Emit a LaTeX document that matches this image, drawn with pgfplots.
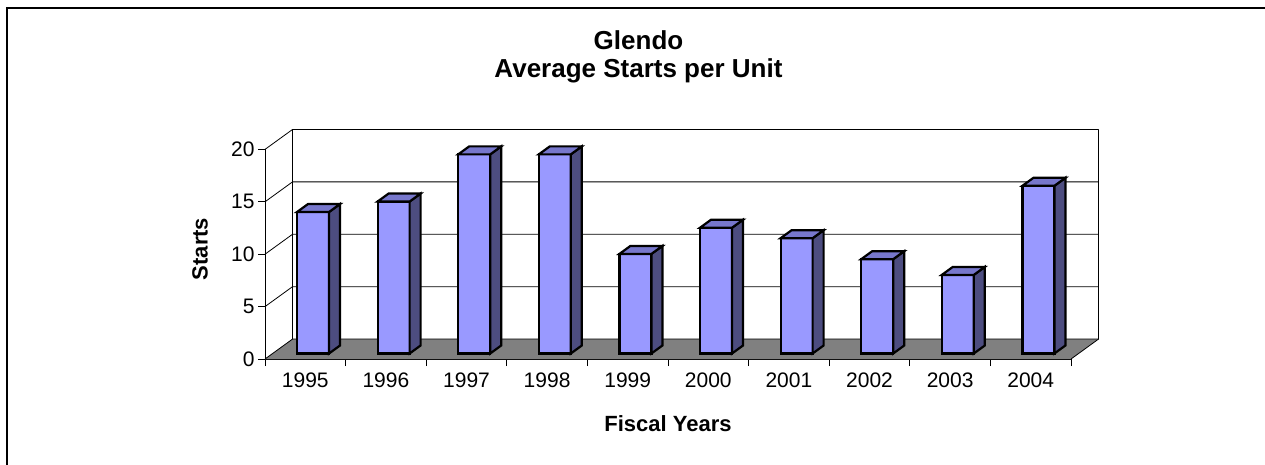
\documentclass[border=0pt]{standalone}
\usepackage{pgfplots}
\pgfplotsset{compat=1.18}
\usepackage{pgfplotstable}
\usepackage{fontspec}
\setmainfont{Liberation Sans}
\definecolor{barfront}{RGB}{153,153,255}
\definecolor{bartop}{RGB}{119,119,204}
\definecolor{barside}{RGB}{77,77,128}
\definecolor{floorgray}{RGB}{128,128,128}

\pgfplotstableread{
x v
0 13.5
1 14.5
2 19
3 19
4 9.5
5 12
6 11
7 9
8 7.5
9 16
}\datatable

\pgfdeclareplotmark{bar3d}{%
  \pgfmathsetmacro\yb{5.5-\val*10.48}%
  \pgfmathsetmacro\ybb{13.5-\val*10.48}%
  \pgfsetlinewidth{2.2pt}%
  \pgfsetstrokecolor{black}%
  \pgfsetmiterjoin
  % front face
  \pgfsetfillcolor{barfront}%
  \pgfpathmoveto{\pgfpoint{-8.3pt}{\yb pt}}%
  \pgfpathlineto{\pgfpoint{23.7pt}{\yb pt}}%
  \pgfpathlineto{\pgfpoint{23.7pt}{5.5pt}}%
  \pgfpathlineto{\pgfpoint{-8.3pt}{5.5pt}}%
  \pgfpathclose
  \pgfusepath{fill,stroke}%
  % side face
  \pgfsetfillcolor{barside}%
  \pgfpathmoveto{\pgfpoint{23.7pt}{\yb pt}}%
  \pgfpathlineto{\pgfpoint{23.7pt}{5.5pt}}%
  \pgfpathlineto{\pgfpoint{34.7pt}{13.5pt}}%
  \pgfpathlineto{\pgfpoint{34.7pt}{\ybb pt}}%
  \pgfpathclose
  \pgfusepath{fill,stroke}%
  % top face
  \pgfsetfillcolor{bartop}%
  \pgfpathmoveto{\pgfpoint{-8.3pt}{5.5pt}}%
  \pgfpathlineto{\pgfpoint{23.7pt}{5.5pt}}%
  \pgfpathlineto{\pgfpoint{34.7pt}{13.5pt}}%
  \pgfpathlineto{\pgfpoint{2.7pt}{13.5pt}}%
  \pgfpathclose
  \pgfusepath{fill,stroke}%
}

\begin{document}
\begin{tikzpicture}
\path[use as bounding box] (0,0) rectangle (1265pt,-464pt);
\draw[line width=2pt, black] (6.5pt,-480pt) -- (6.5pt,-7.5pt) -- (1280pt,-7.5pt);

\begin{axis}[
  at={(265pt,-359pt)}, anchor=south west,
  x=80.6pt, y=10.48pt,
  xmin=0, xmax=10, ymin=0, ymax=20,
  axis lines*=left,
  axis line style={black, line width=0.8pt},
  clip=false,
  xtick={0,1,2,3,4,5,6,7,8,9,10},
  x tick label as interval,
  xticklabels={1995,1996,1997,1998,1999,2000,2001,2002,2003,2004},
  xticklabel style={yshift=-3pt},
  ytick={0,5,10,15,20},
  tick align=outside,
  major tick length=7pt,
  tick style={black, line width=0.8pt},
  ticklabel style={font=\fontsize{21}{25}\selectfont},
  /pgf/number format/assume math mode=true,
]
% floor
\fill[floorgray] (axis cs:0,0) -- (axis cs:10,0) -- (axis cs:10.341,1.9) -- (axis cs:0.341,1.9) -- cycle;
% walls and gridlines
\draw[black, line width=0.8pt] (axis cs:0,0) -- (axis cs:0.341,1.9) -- (axis cs:10.341,1.9);
\draw[black, line width=0.8pt] (axis cs:0,5) -- (axis cs:0.341,6.9) -- (axis cs:10.341,6.9);
\draw[black, line width=0.8pt] (axis cs:0,10) -- (axis cs:0.341,11.9) -- (axis cs:10.341,11.9);
\draw[black, line width=0.8pt] (axis cs:0,15) -- (axis cs:0.341,16.9) -- (axis cs:10.341,16.9);
\draw[black, line width=0.8pt] (axis cs:0,20) -- (axis cs:0.341,21.9) -- (axis cs:10.341,21.9);
\draw[black, line width=0.8pt] (axis cs:0.341,1.9) -- (axis cs:0.341,21.9);
\draw[black, line width=0.8pt] (axis cs:10,0) -- (axis cs:10.341,1.9) -- (axis cs:10.341,21.9);
% bars
\addplot[scatter, only marks, mark=bar3d,
  visualization depends on={\thisrow{v} \as \val},
  scatter/@pre marker code/.code={},
  scatter/@post marker code/.code={}]
  table[x expr=\thisrow{x}+0.5, y=v] {\datatable};
\end{axis}

\node[font=\bfseries\fontsize{26}{30}\selectfont, anchor=base] at (638.5pt,-49.3pt) {Glendo};
\node[font=\bfseries\fontsize{26}{30}\selectfont, anchor=base] at (638.5pt,-77.5pt) {Average Starts per Unit};
\node[font=\bfseries\fontsize{22}{26}\selectfont, rotate=90, anchor=center] at (200pt,-249pt) {Starts};
\node[font=\bfseries\fontsize{22}{26}\selectfont, anchor=base] at (668pt,-431pt) {Fiscal Years};
\end{tikzpicture}
\end{document}
